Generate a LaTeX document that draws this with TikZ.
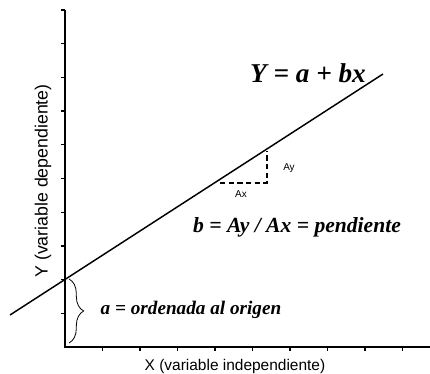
\documentclass[tikz,border=0pt]{standalone}
\usepackage{fontspec}
\setmainfont{Liberation Serif}
\setsansfont{Liberation Sans}
\usetikzlibrary{decorations.pathreplacing}
\begin{document}
\begin{tikzpicture}[x=0.75pt,y=-0.75pt,
  axisline/.style={line width=1.4pt},
  tickline/.style={line width=1pt},
  regline/.style={line width=1.1pt},
  dashline/.style={line width=0.9pt,dash pattern=on 4pt off 2.5pt},
  formula/.style={font=\bfseries\itshape, inner sep=0pt},
  axislabel/.style={font=\sffamily, inner sep=0pt},
  smalllabel/.style={font=\sffamily\fontsize{7.5}{9}\selectfont, inner sep=0pt}]
\useasboundingbox (0,0) rectangle (430,374);
% axes
\coordinate (O) at (65,347);
\coordinate (Ytop) at (65,10);
\coordinate (Xend) at (430,347);
\draw[axisline] (Ytop) -- (O) -- (Xend);
\foreach \k in {0,...,9} {
  \draw[tickline] (61,{10+33.7*\k}) -- (65,{10+33.7*\k});
}
\foreach \k in {1,...,9} {
  \draw[tickline] ({65+37.5*\k},347) -- ({65+37.5*\k},351);
}
% regression line
\coordinate (L1) at (10,315);
\coordinate (L2) at (383,74);
\draw[regline] (L1) -- (L2);
% slope triangle
\coordinate (P1) at (220,183);
\coordinate (PC) at (267,183);
\coordinate (P2) at (267,151);
\draw[dashline] (P1) -- (PC) -- (P2);
\node[smalllabel] (ay) at (289,168) {Ay};
\node[smalllabel] (ax) at (241,194) {Ax};
% brace
\coordinate (B1) at (69,279);
\coordinate (B2) at (69,343);
\draw[line width=0.6pt, decorate, decoration={brace, amplitude=11pt}] (B1) -- (B2);
% texts
\node[formula, font=\fontsize{20.4}{24}\bfseries\itshape\selectfont] (eq) at (308,73) {Y = a + bx};
\node[formula, font=\fontsize{16.2}{19}\bfseries\itshape\selectfont] (slope) at (297,227) {b = Ay / Ax = pendiente};
\node[formula, font=\fontsize{14.4}{17}\bfseries\itshape\selectfont] (orig) at (191,310) {a = ordenada al origen};
\node[axislabel, font=\sffamily\fontsize{13.3}{15}\selectfont, rotate=90] (ylab) at (43,181) {Y (variable dependiente)};
\node[axislabel, font=\sffamily\fontsize{11.6}{14}\selectfont] (xlab) at (235,367) {X (variable independiente)};
\end{tikzpicture}
\end{document}
